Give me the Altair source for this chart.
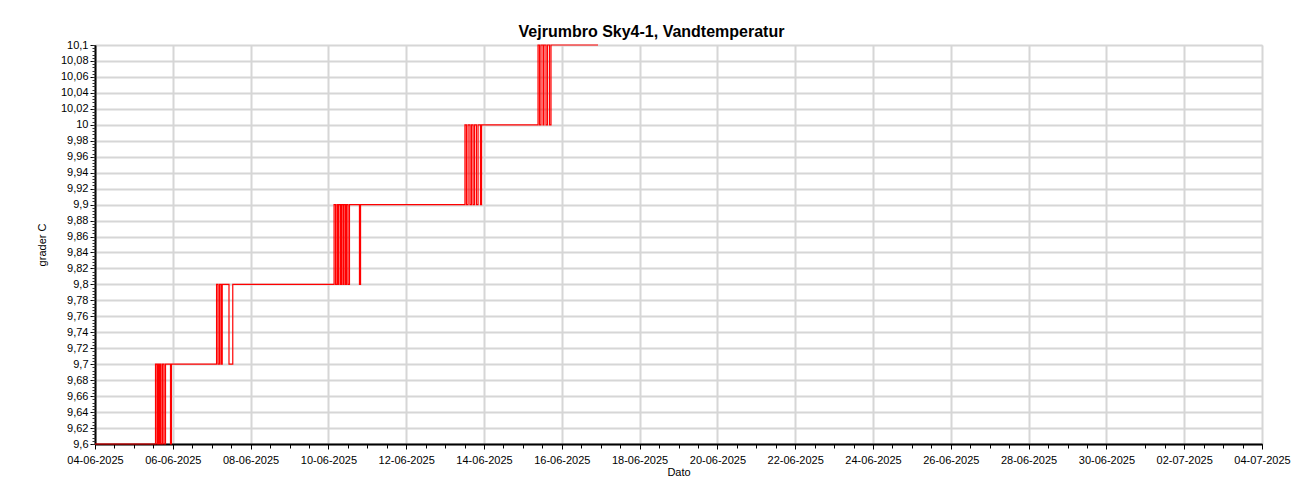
import altair as alt
import pandas as pd

# Step series (time of change, new value)
times = [
    "2025-06-04T00:00", "2025-06-05T13:20", "2025-06-05T14:15", "2025-06-05T14:45",
    "2025-06-05T15:30", "2025-06-05T16:05", "2025-06-05T16:45", "2025-06-05T17:40",
    "2025-06-05T18:35", "2025-06-05T19:30", "2025-06-05T22:35", "2025-06-05T23:10",
    "2025-06-07T03:00", "2025-06-07T03:55", "2025-06-07T04:50", "2025-06-07T05:45",
    "2025-06-07T06:30", "2025-06-07T10:40", "2025-06-07T13:00",
    "2025-06-10T03:30", "2025-06-10T04:25", "2025-06-10T05:20", "2025-06-10T05:55",
    "2025-06-10T06:30", "2025-06-10T07:30", "2025-06-10T08:05", "2025-06-10T09:00",
    "2025-06-10T09:40", "2025-06-10T10:35", "2025-06-10T11:10", "2025-06-10T12:05",
    "2025-06-10T13:00", "2025-06-10T19:10", "2025-06-10T19:50",
    "2025-06-13T12:15", "2025-06-13T13:10", "2025-06-13T14:10", "2025-06-13T15:20",
    "2025-06-13T16:15", "2025-06-13T17:15", "2025-06-13T18:10", "2025-06-13T19:20",
    "2025-06-13T20:20", "2025-06-13T21:50", "2025-06-13T22:30",
    "2025-06-15T09:20", "2025-06-15T10:15", "2025-06-15T11:10", "2025-06-15T12:25",
    "2025-06-15T13:00", "2025-06-15T14:15", "2025-06-15T15:10", "2025-06-15T16:25",
    "2025-06-15T17:20", "2025-06-16T22:20",
]
values = [
    9.6, 9.7, 9.6, 9.7,
    9.6, 9.7, 9.6, 9.7,
    9.6, 9.7, 9.6, 9.7,
    9.8, 9.7, 9.8, 9.7,
    9.8, 9.7, 9.8,
    9.9, 9.8, 9.9, 9.8,
    9.9, 9.8, 9.9, 9.8,
    9.9, 9.8, 9.9, 9.8,
    9.9, 9.8, 9.9,
    10.0, 9.9, 10.0, 9.9,
    10.0, 9.9, 10.0, 9.9,
    10.0, 9.9, 10.0,
    10.1, 10.0, 10.1, 10.0,
    10.1, 10.0, 10.1, 10.0,
    10.1, 10.1,
]

y_ticks = [9.6, 9.62, 9.64, 9.66, 9.68, 9.7, 9.72, 9.74, 9.76, 9.78, 9.8, 9.82,
           9.84, 9.86, 9.88, 9.9, 9.92, 9.94, 9.96, 9.98, 10.0, 10.02, 10.04,
           10.06, 10.08, 10.1]
x_tick_days = [(6, 4), (6, 6), (6, 8), (6, 10), (6, 12), (6, 14), (6, 16), (6, 18),
               (6, 20), (6, 22), (6, 24), (6, 26), (6, 28), (6, 30), (7, 2), (7, 4)]

df = pd.DataFrame({"time": [t + ":00Z" for t in times], "value": values})

FONT = "Liberation Sans"
x_domain = [alt.DateTime(year=2025, month=6, date=4, utc=True),
            alt.DateTime(year=2025, month=7, date=4, utc=True)]
x_scale = alt.Scale(type="utc", domain=x_domain)
y_scale = alt.Scale(domain=[9.6, 10.1], nice=False, zero=False)

major_x = [alt.DateTime(year=2025, month=m, date=d, utc=True) for m, d in x_tick_days]
minor_x = [alt.DateTime(year=2025, month=6 if i < 26 * 2 else 7,
                        date=(4 + i // 2) if i < 26 * 2 else (1 + (i - 52) // 2),
                        hours=12 * (i % 2), utc=True) for i in range(0, 61)]
minor_y = [round(9.6 + i * 0.004, 3) for i in range(0, 126)]

line = alt.Chart(df).mark_line(color="#ff0000", strokeWidth=1.2, interpolate="step-after").encode(
    x=alt.X("time:T", scale=x_scale,
            axis=alt.Axis(values=major_x, labelExpr="utcFormat(datum.value, '%d-%m-%Y')",
                          title="Dato",
                          labelFont=FONT, labelFontSize=11, labelColor="black",
                          titleFont=FONT, titleFontSize=11, titleFontWeight="normal",
                          titleColor="black", titlePadding=1,
                          grid=True, gridColor="#d6d6d6", gridWidth=2,
                          domainColor="black", domainWidth=2,
                          tickColor="black", tickSize=5, tickWidth=1,
                          labelPadding=5, labelFlush=False, labelOverlap=False)),
    y=alt.Y("value:Q", scale=y_scale,
            axis=alt.Axis(values=y_ticks, labelExpr="replace(format(datum.value, '.2~f'), '.', ',')",
                          title="grader C",
                          labelFont=FONT, labelFontSize=11, labelColor="black",
                          titleFont=FONT, titleFontSize=11, titleFontWeight="normal",
                          titleColor="black", titlePadding=13,
                          grid=True, gridColor="#d6d6d6", gridWidth=2,
                          domainColor="black", domainWidth=2,
                          tickColor="black", tickSize=5, tickWidth=1,
                          labelPadding=2, labelOverlap=False)),
)

minor = alt.Chart(df).mark_line(opacity=0).encode(
    x=alt.X("time:T", scale=x_scale,
            axis=alt.Axis(values=minor_x, labels=False, grid=False, domain=False, title=None,
                          orient="bottom", tickColor="black", tickSize=4, tickWidth=1)),
    y=alt.Y("value:Q", scale=y_scale,
            axis=alt.Axis(values=minor_y, labels=False, grid=False, domain=False, title=None,
                          orient="left", tickColor="#333333", tickSize=3, tickWidth=1)),
)

chart = alt.layer(line, minor).resolve_axis(x="independent", y="independent").properties(
    width=1167, height=399,
    title=alt.TitleParams("Vejrumbro Sky4-1, Vandtemperatur", font=FONT, fontSize=16,
                          fontWeight="bold", color="black", anchor="middle", dx=-27, offset=-1),
    autosize=alt.AutoSizeParams(type="none"),
    padding={"left": 87, "top": 37, "right": 30, "bottom": 40},
).configure_view(stroke="#7a7a7a", strokeWidth=2).configure(background="white")

chart.save("out.html", embed_options={"renderer": "svg", "actions": False})
